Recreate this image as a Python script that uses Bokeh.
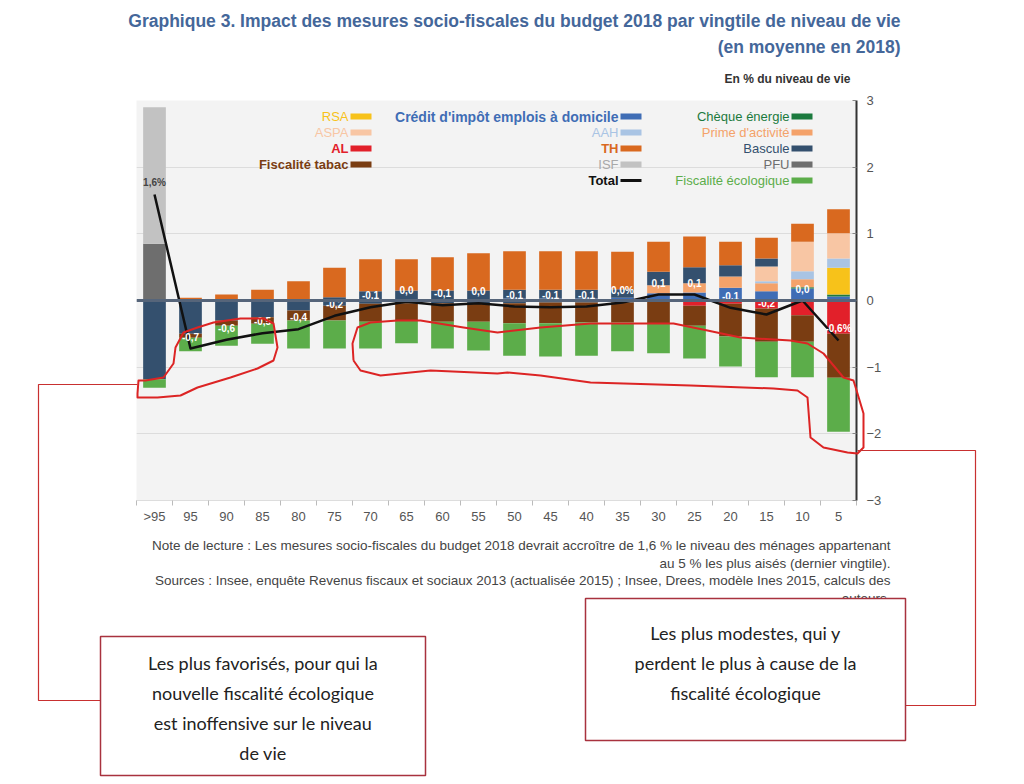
import numpy as np
from bokeh.plotting import figure
from bokeh.models import ColumnDataSource, FixedTicker, Span
from bokeh.core.properties import value
from bokeh.embed import file_html
from bokeh.resources import INLINE

# ---------------- data ----------------
categories = [">95", "95", "90", "85", "80", "75", "70", "65", "60", "55",
              "50", "45", "40", "35", "30", "25", "20", "15", "10", "5"]

# positive contributions (% du niveau de vie)
credit = [0, 0, 0, 0, 0, 0, 0.02, 0.02, 0.02, 0.02, 0.03, 0.03, 0.03, 0.04, 0.11, 0.12, 0.19, 0.14, 0.18, 0.06]
cheque = [0, 0, 0, 0, 0, 0, 0, 0, 0, 0, 0, 0, 0, 0, 0, 0, 0, 0, 0.02, 0.03]
rsa = [0, 0, 0, 0, 0, 0, 0, 0, 0, 0, 0, 0, 0, 0, 0, 0, 0, 0, 0, 0.40]
prime = [0, 0, 0, 0, 0, 0, 0, 0, 0, 0, 0, 0, 0, 0, 0.12, 0.14, 0.17, 0.12, 0.12, 0]
aah = [0, 0, 0, 0, 0, 0, 0, 0, 0, 0, 0, 0, 0, 0, 0, 0, 0, 0.03, 0.12, 0.14]
aspa = [0, 0, 0, 0, 0, 0, 0, 0, 0, 0, 0, 0, 0, 0, 0, 0, 0, 0.22, 0.44, 0.38]
bascule_pos = [0, 0, 0, 0, 0, 0.05, 0.12, 0.13, 0.13, 0.13, 0.13, 0.13, 0.13, 0.13, 0.20, 0.24, 0.17, 0.12, 0, 0]
pfu = [0.85, 0, 0, 0, 0, 0, 0, 0, 0, 0, 0, 0, 0, 0, 0, 0, 0, 0, 0, 0]
isf = [2.05, 0, 0, 0, 0, 0, 0, 0, 0, 0, 0, 0, 0, 0, 0, 0, 0, 0, 0, 0]
th = [0, 0.04, 0.09, 0.16, 0.29, 0.44, 0.48, 0.47, 0.50, 0.56, 0.58, 0.58, 0.58, 0.56, 0.45, 0.46, 0.35, 0.31, 0.27, 0.36]

# negative contributions
bascule_neg = [-1.18, -0.50, -0.30, -0.25, -0.15, -0.08, -0.05, -0.04, -0.04, -0.04, -0.04, -0.03, -0.03, -0.03, -0.02, 0, 0, 0, 0, 0]
al = [0, 0, 0, 0, 0, 0, 0, 0, 0, 0, 0, 0, 0, 0, 0, -0.08, -0.05, -0.12, -0.22, -0.50]
tabac = [0, -0.06, -0.08, -0.10, -0.15, -0.22, -0.27, -0.26, -0.28, -0.28, -0.30, -0.31, -0.30, -0.30, -0.33, -0.30, -0.49, -0.50, -0.40, -0.66]
eco = [-0.13, -0.20, -0.30, -0.30, -0.42, -0.42, -0.40, -0.34, -0.40, -0.43, -0.49, -0.50, -0.50, -0.43, -0.44, -0.49, -0.45, -0.53, -0.53, -0.81]

total_labels = ["1,6%", "-0,7", "-0,6", "-0,5", "-0,4", "-0,2", "-0,1", "0,0", "-0,1", "0,0",
                "-0,1", "-0,1", "-0,1", "0,0%", "0,1", "0,1", "-0,1", "-0,2", "0,0", "-0,6%"]

y_ticks = [-3, -2, -1, 0, 1, 2, 3]

title_lines = ["Graphique 3. Impact des mesures socio-fiscales du budget 2018 par vingtile de niveau de vie",
               "(en moyenne en 2018)"]
unit_text = "En % du niveau de vie"
note_lines = ["Note de lecture : Les mesures socio-fiscales du budget 2018 devrait accroître de 1,6 % le niveau des ménages appartenant",
              "au 5 % les plus aisés (dernier vingtile).",
              "Sources : Insee, enquête Revenus fiscaux et sociaux 2013 (actualisée 2015) ; Insee, Drees, modèle Ines 2015, calculs des",
              "auteurs."]
box_left_lines = ["Les plus favorisés, pour qui la", "nouvelle fiscalité écologique",
                  "est inoffensive sur le niveau", "de vie"]
box_right_lines = ["Les plus modestes, qui y", "perdent le plus à cause de la", "fiscalité écologique"]

legend_col1 = ["Chèque énergie", "Prime d'activité", "Bascule", "PFU", "Fiscalité écologique"]
legend_col2 = ["Crédit d'impôt emplois à domicile", "AAH", "TH", "ISF", "Total"]
legend_col3 = ["RSA", "ASPA", "AL", "Fiscalité tabac"]

# ---------------- styles ----------------
C = {
    "Chèque énergie": "#1b7a3e",
    "Prime d'activité": "#f4a26a",
    "Bascule": "#34506e",
    "PFU": "#6e6e6e",
    "Fiscalité écologique": "#5cad4a",
    "Crédit d'impôt emplois à domicile": "#3f6db5",
    "AAH": "#a9c4e4",
    "TH": "#d9691f",
    "ISF": "#c2c2c2",
    "Total": "#111111",
    "RSA": "#f7c21a",
    "ASPA": "#f8c6a4",
    "AL": "#e2202a",
    "Fiscalité tabac": "#7a3d12",
}
BOLD_LEGEND = {"Crédit d'impôt emplois à domicile", "TH", "Total", "AL", "Fiscalité tabac"}
FONT = "Liberation Sans"
BOXFONT = "Lato"
W, H = 1020, 780

n = len(categories)
xs = list(range(n))
data = dict(x=xs, credit=credit, cheque=cheque, rsa=rsa, prime=prime, aah=aah, aspa=aspa,
            bascule_pos=bascule_pos, pfu=pfu, isf=isf, th=th,
            bascule_neg=bascule_neg, al=al, tabac=tabac, eco=eco)
pos_keys = ["credit", "cheque", "rsa", "prime", "aah", "aspa", "bascule_pos", "pfu", "isf", "th"]
neg_keys = ["bascule_neg", "al", "tabac", "eco"]
total = np.sum([np.array(data[k]) for k in pos_keys + neg_keys], axis=0)
data["total"] = total
data["lab"] = total_labels
data["lab_y"] = total + 0.18
data["lab_col"] = ["#444444" if t > 1 else "white" for t in total]
source = ColumnDataSource(data)

# ---------------- chart (bottom layer) ----------------
p = figure(width=W, height=H, x_range=(-0.5, n - 0.5), y_range=(-3, 3),
           output_backend="svg", toolbar_location=None, y_axis_location="right",
           min_border_left=136, min_border_right=W - 856, min_border_top=100, min_border_bottom=H - 500,
           background_fill_color="#f3f3f3", border_fill_color="white", outline_line_color=None)

pos_cols = [C["Crédit d'impôt emplois à domicile"], C["Chèque énergie"], C["RSA"], C["Prime d'activité"],
            C["AAH"], C["ASPA"], C["Bascule"], C["PFU"], C["ISF"], C["TH"]]
neg_cols = [C["Bascule"], C["AL"], C["Fiscalité tabac"], C["Fiscalité écologique"]]
p.vbar_stack(pos_keys, x="x", width=0.63, fill_color=pos_cols, line_color=None, source=source)
p.vbar_stack(neg_keys, x="x", width=0.63, fill_color=neg_cols, line_color=None, source=source)

p.add_layout(Span(location=0, dimension="width", line_color="#56657a", line_width=3))
p.line("x", "total", source=source, line_color=C["Total"], line_width=2.5, line_join="round")
p.text("x", "lab_y", text="lab", source=source, text_align="center", text_baseline="middle",
       text_font=value(FONT), text_font_size="10px", text_font_style="bold",
       text_color="lab_col")

p.yaxis.ticker = FixedTicker(ticks=y_ticks)
p.yaxis.axis_line_color = "#333333"
p.yaxis.axis_line_width = 2
p.yaxis.major_tick_in = 4
p.yaxis.major_tick_out = 0
p.yaxis.major_tick_line_color = "#888888"
p.yaxis.minor_tick_line_color = None
p.yaxis.major_label_text_font_size = "13px"
p.yaxis.major_label_text_color = "#555555"
p.yaxis.major_label_text_font = FONT
p.yaxis.major_label_standoff = 10

p.xaxis.ticker = FixedTicker(ticks=xs, minor_ticks=[i - 0.5 for i in range(n + 1)])
p.xaxis.major_label_overrides = {i: c for i, c in enumerate(categories)}
p.xaxis.major_tick_line_color = None
p.xaxis.minor_tick_line_color = "#bbbbbb"
p.xaxis.minor_tick_out = 5
p.xaxis.minor_tick_in = 0
p.xaxis.axis_line_color = "#dddddd"
p.xaxis.major_label_text_font_size = "13px"
p.xaxis.major_label_text_color = "#555555"
p.xaxis.major_label_text_font = FONT
p.xaxis.major_label_standoff = 2

p.xgrid.grid_line_color = None
p.ygrid.ticker = FixedTicker(ticks=y_ticks)
p.ygrid.grid_line_color = "#dcdcdc"

# ---------------- overlay in page pixels (top layer, transparent) ----------------
d = figure(width=W, height=H, x_range=(0, W), y_range=(H, 0), x_axis_type=None, y_axis_type=None,
           output_backend="svg", toolbar_location=None, min_border=0,
           background_fill_color=None, border_fill_color=None, outline_line_color=None)
d.grid.visible = False
d.styles = {"position": "absolute", "top": "0px", "left": "0px"}

def txt(x, y, s, align="left", size="12px", color="#333333", style="normal", font=FONT):
    d.text([x], [y], text=[s], text_align=align, text_baseline="middle", text_font=value(font),
           text_font_size=size, text_color=color, text_font_style=style)

# legend (mirrored: text left of swatch)
row_y = [116, 132, 148, 164, 180]
for right_px, names in [(812, legend_col1), (641, legend_col2), (371, legend_col3)]:
    for j, name in enumerate(names):
        yy = row_y[j]
        hh = 1.5 if name == "Total" else 3
        d.quad(left=[right_px - 21], right=[right_px], top=[yy - hh], bottom=[yy + hh],
               fill_color=C[name], line_color=None)
        txt(right_px - 23, yy, name, align="right",
            size="14px" if name.startswith("Crédit") else "13px",
            color=C[name] if name != "ISF" else "#a8a8a8",
            style="bold" if name in BOLD_LEGEND else "normal")

# title, unit, notes
txt(900, 20, title_lines[0], align="right", size="17.5px", color="#44679a", style="bold")
txt(900, 46, title_lines[1], align="right", size="17.5px", color="#44679a", style="bold")
txt(850, 78, unit_text, align="right", size="12px", color="#333333", style="bold")
for k, line in enumerate(note_lines):
    txt(890, 545 + 17.5 * k, line, align="right", size="13.5px", color="#444444")

# hand-drawn red outlines
RED = "#dc2424"
loop_left = [(137, 393), (138, 380), (145, 380), (163, 377), (173, 363), (175, 347), (183, 332), (197, 327),
             (213, 322), (240, 318), (263, 318), (273, 323), (277, 347), (273, 360), (257, 368), (230, 377),
             (197, 387), (180, 395), (157, 397), (137, 397), (137, 393)]
loop_right = [(353, 360), (352, 343), (357, 327), (370, 322), (397, 320), (420, 320), (463, 327), (497, 332),
              (540, 327), (590, 323), (673, 323), (707, 330), (740, 337), (790, 340), (807, 343), (823, 353),
              (843, 377), (853, 380), (857, 393), (863, 413), (863, 447), (857, 453), (847, 452), (823, 447),
              (810, 437), (807, 397), (797, 390), (773, 388), (690, 385), (590, 382), (540, 375), (507, 372),
              (497, 373), (430, 370), (380, 375), (360, 370), (353, 360)]
for pts in (loop_left, loop_right):
    d.line([a for a, b in pts], [b for a, b in pts], line_color=RED, line_width=2, line_join="round")

conn_left = [(137, 384), (38, 384), (38, 700), (100, 700)]
conn_right = [(857, 450), (975, 450), (975, 705), (905, 705)]
for pts in (conn_left, conn_right):
    d.line([a for a, b in pts], [b for a, b in pts], line_color="#c83030", line_width=1.2)

# text boxes
BOXLINE = "#a8323e"
for (l, t, r, b), lines, y0 in [((100, 636, 425, 775), box_left_lines, 662),
                                 ((585, 598, 905, 740), box_right_lines, 632)]:
    d.quad(left=[l], right=[r], top=[t], bottom=[b], fill_color="white", line_color=BOXLINE, line_width=1.5)
    for k, line in enumerate(lines):
        txt((l + r) / 2, y0 + 30 * k, line, align="center", size="18px", color="#222222", font=BOXFONT)

open("out.html", "w").write(file_html([p, d], INLINE))
